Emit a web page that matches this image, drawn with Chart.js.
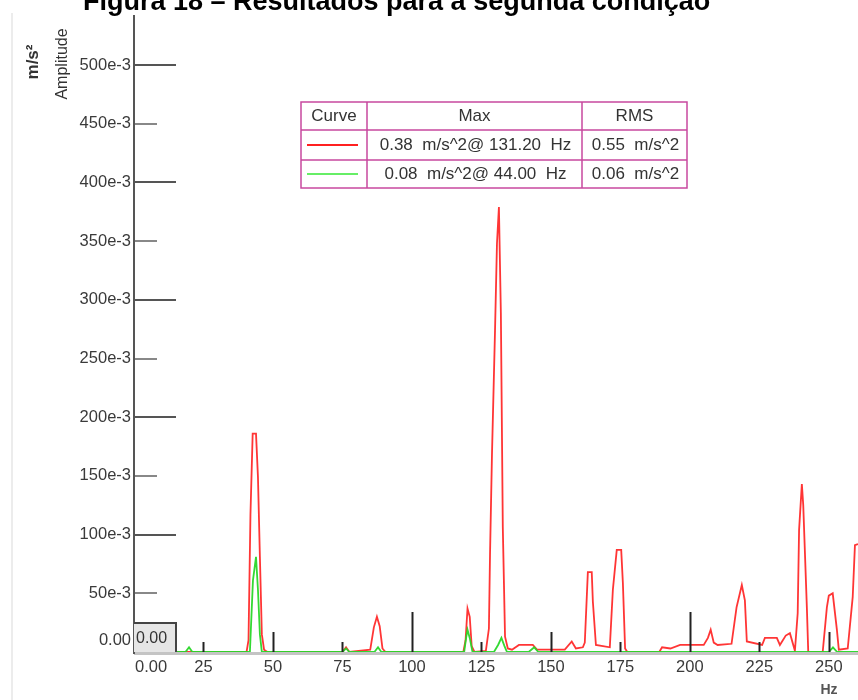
<!DOCTYPE html>
<html><head><meta charset="utf-8">
<script src="https://cdn.jsdelivr.net/npm/chart.js@4/dist/chart.umd.min.js"></script>
<style>html,body{margin:0;padding:0;background:#fff;}#wrap{width:858px;height:700px;position:relative;overflow:hidden}</style>
</head><body><div id="wrap"><canvas id="c" width="858" height="700"></canvas></div>
<script>
const chartTitle = "Figura 18 – Resultados para a segunda condição";
const yAxisTitle = "Amplitude";
const yAxisUnit = "m/s²";
const xAxisUnit = "Hz";

const redFreq = [0, 15, 40.5, 41.2, 41.9, 42.7, 43.9, 44.6, 45.3, 46.0, 46.8, 48, 75, 76.3, 77.5, 85.0, 86.3, 87.4, 88.4, 89.4, 90.5,
  118.5, 119.3, 120.0, 120.8, 121.5, 122.5, 126.6, 127.7, 128.1, 128.8, 129.9, 130.6, 131.3, 132.0, 132.7, 133.5, 134.5, 136, 138.5, 143.5, 145,
  155, 157.5, 159, 161.5, 162.2, 163.3, 164.7, 165.1, 166.2, 171.2, 172.3, 173.7, 175.3, 175.9, 176.7, 177.5, 189, 190, 193, 196.5,
  205, 206.5, 207.5, 208.6, 210, 215, 216.8, 218.7, 219.8, 220.5, 226, 227, 231.3, 232.4, 234.5, 236, 237.8, 238.8, 239.3, 240.3, 240.8, 242.1, 242.6,
  247.8, 249.3, 250.0, 251.4, 252.9, 253.6, 256.8, 258.6, 259.4, 260.5];
const redAmp = [0, 0, 0, 0.010, 0.117, 0.186, 0.186, 0.149, 0.081, 0.015, 0.002, 0, 0, 0.004, 0, 0.002, 0.021, 0.030, 0.022, 0.003, 0,
  0, 0.010, 0.037, 0.030, 0.005, 0, 0.001, 0.020, 0.083, 0.168, 0.274, 0.348, 0.379, 0.289, 0.106, 0.013, 0.003, 0.002, 0.006, 0.006, 0.002,
  0.002, 0.009, 0.003, 0.004, 0.008, 0.068, 0.068, 0.043, 0.006, 0.004, 0.053, 0.087, 0.087, 0.059, 0.003, 0, 0, 0.004, 0.003, 0.006,
  0.006, 0.012, 0.019, 0.008, 0.006, 0.007, 0.038, 0.057, 0.044, 0.009, 0.006, 0.012, 0.012, 0.006, 0.014, 0.016, 0.001, 0.033, 0.104, 0.143, 0.125, 0.038, 0,
  0, 0.038, 0.048, 0.050, 0.019, 0.002, 0.003, 0.047, 0.091, 0.092];

const greenFreq = [0, 18.5, 19.8, 21, 41.7, 42.8, 43.9, 44.6, 45.3, 46.0, 75, 76.3, 77.5, 86.5, 87.8, 89, 118.8, 119.5, 120.0, 120.8, 121.8,
  129.5, 131, 132.2, 133.3, 134.2, 142, 144, 145.5, 250, 251.5, 253, 260.5];
const greenAmp = [0, 0, 0.004, 0, 0, 0.061, 0.081, 0.053, 0.015, 0, 0, 0.003, 0, 0, 0.004, 0, 0, 0.012, 0.019, 0.012, 0,
  0, 0.006, 0.012, 0.005, 0, 0, 0.004, 0, 0, 0.004, 0, 0];

const yTickValues = [0, 0.05, 0.10, 0.15, 0.20, 0.25, 0.30, 0.35, 0.40, 0.45, 0.50];
const yTickLabels = ["0.00", "50e-3", "100e-3", "150e-3", "200e-3", "250e-3", "300e-3", "350e-3", "400e-3", "450e-3", "500e-3"];
const xTickValues = [0, 25, 50, 75, 100, 125, 150, 175, 200, 225, 250];
const xTickLabels = ["0.00", "25", "50", "75", "100", "125", "150", "175", "200", "225", "250"];

const legendHeaders = ["Curve", "Max", "RMS"];
const legendColors = ["#ff2020", "#66ee66"];
const legendMax = ["0.38  m/s^2@ 131.20  Hz", "0.08  m/s^2@ 44.00  Hz"];
const legendRms = ["0.55  m/s^2", "0.06  m/s^2"];

const FONT = '"Liberation Sans", Arial, sans-serif';

const decor = {
  id: 'decor',
  beforeDatasetsDraw(chart) {
    const ctx = chart.ctx, xs = chart.scales.x, ys = chart.scales.y;
    const y0 = ys.getPixelForValue(0);
    ctx.save();
    ctx.strokeStyle = '#c4c4c4';
    ctx.lineWidth = 3;
    ctx.beginPath();
    ctx.moveTo(xs.getPixelForValue(0), y0 + 1.5);
    ctx.lineTo(chart.chartArea.right, y0 + 1.5);
    ctx.stroke();
    ctx.restore();
  },
  afterDatasetsDraw(chart) {
    const ctx = chart.ctx, xs = chart.scales.x, ys = chart.scales.y, ca = chart.chartArea;
    const x0 = xs.getPixelForValue(0), y0 = ys.getPixelForValue(0);
    ctx.save();
    // left faint frame
    ctx.strokeStyle = '#ececec'; ctx.lineWidth = 2;
    ctx.beginPath(); ctx.moveTo(12, 13); ctx.lineTo(12, 700); ctx.stroke();

    // x ticks (inward)
    ctx.strokeStyle = '#222'; ctx.lineWidth = 2;
    xTickValues.forEach(v => {
      if (v === 0) return;
      const px = Math.round(xs.getPixelForValue(v)) + 0.5;
      const len = v % 100 === 0 ? 40 : (v % 50 === 0 ? 20 : 10);
      ctx.beginPath(); ctx.moveTo(px, y0); ctx.lineTo(px, y0 - len); ctx.stroke();
    });
    // y ticks
    yTickValues.forEach(v => {
      if (v === 0) return;
      const py = Math.round(ys.getPixelForValue(v));
      const major = Math.round(v * 100) % 10 === 0;
      ctx.strokeStyle = major ? '#555' : '#888';
      ctx.lineWidth = 2;
      ctx.beginPath(); ctx.moveTo(x0, py); ctx.lineTo(x0 + (major ? 42 : 23), py); ctx.stroke();
    });
    // y axis line
    ctx.strokeStyle = '#555'; ctx.lineWidth = 2;
    ctx.beginPath(); ctx.moveTo(x0, ca.top); ctx.lineTo(x0, y0 + 2); ctx.stroke();

    // 0.00 box
    ctx.fillStyle = '#e6e6e6';
    ctx.fillRect(x0, y0 - 29, 42, 29);
    ctx.strokeStyle = '#444'; ctx.lineWidth = 2;
    ctx.beginPath(); ctx.moveTo(x0, y0 - 29); ctx.lineTo(x0 + 42, y0 - 29); ctx.lineTo(x0 + 42, y0); ctx.stroke();
    ctx.fillStyle = '#333'; ctx.font = '16px ' + FONT; ctx.textAlign = 'left'; ctx.textBaseline = 'middle';
    ctx.fillText(yTickLabels[0], x0 + 2, y0 - 13);

    // y tick labels
    ctx.font = '16.5px ' + FONT; ctx.fillStyle = '#3a3a3a';
    ctx.textAlign = 'right'; ctx.textBaseline = 'middle';
    yTickValues.forEach((v, i) => {
      let py = ys.getPixelForValue(v);
      if (v === 0) py -= 12;
      ctx.fillText(yTickLabels[i], x0 - 3, py);
    });
    // x tick labels
    ctx.textBaseline = 'middle';
    xTickValues.forEach((v, i) => {
      const px = xs.getPixelForValue(v);
      if (v === 0) { ctx.textAlign = 'left'; ctx.fillText(xTickLabels[i], px + 1, y0 + 15); }
      else { ctx.textAlign = 'center'; ctx.fillText(xTickLabels[i], px, y0 + 15); }
    });
    // Hz
    ctx.font = 'bold 14px ' + FONT; ctx.fillStyle = '#555'; ctx.textAlign = 'center';
    ctx.fillText(xAxisUnit, 829, 690);

    // y axis titles
    ctx.save();
    ctx.translate(63, 64); ctx.rotate(-Math.PI / 2);
    ctx.font = '16px ' + FONT; ctx.fillStyle = '#333'; ctx.textAlign = 'center'; ctx.textBaseline = 'middle';
    ctx.fillText(yAxisTitle, 0, 0);
    ctx.restore();
    ctx.save();
    ctx.translate(33, 62); ctx.rotate(-Math.PI / 2);
    ctx.font = 'bold 17px ' + FONT; ctx.fillStyle = '#333'; ctx.textAlign = 'center'; ctx.textBaseline = 'middle';
    ctx.fillText(yAxisUnit, 0, 0);
    ctx.restore();

    // legend table
    const L = 301, R = 687, T = 102, B = 188;
    const c1 = 367, c2 = 582, r1 = 130, r2 = 160;
    ctx.strokeStyle = '#c8489f'; ctx.lineWidth = 1.5;
    ctx.strokeRect(L, T, R - L, B - T);
    ctx.beginPath();
    ctx.moveTo(c1, T); ctx.lineTo(c1, B);
    ctx.moveTo(c2, T); ctx.lineTo(c2, B);
    ctx.moveTo(L, r1); ctx.lineTo(R, r1);
    ctx.moveTo(L, r2); ctx.lineTo(R, r2);
    ctx.stroke();
    ctx.font = '17px ' + FONT; ctx.fillStyle = '#333'; ctx.textAlign = 'center'; ctx.textBaseline = 'middle';
    ctx.fillText(legendHeaders[0], (L + c1) / 2, (T + r1) / 2);
    ctx.fillText(legendHeaders[1], (c1 + c2) / 2, (T + r1) / 2);
    ctx.fillText(legendHeaders[2], (c2 + R) / 2, (T + r1) / 2);
    const rowsY = [(r1 + r2) / 2, (r2 + B) / 2];
    for (let i = 0; i < 2; i++) {
      ctx.strokeStyle = legendColors[i]; ctx.lineWidth = 2;
      ctx.beginPath(); ctx.moveTo(307, rowsY[i]); ctx.lineTo(358, rowsY[i]); ctx.stroke();
      ctx.fillStyle = '#333';
      ctx.fillText(legendMax[i], (c1 + c2) / 2 + 1, rowsY[i]);
      ctx.fillText(legendRms[i], (c2 + R) / 2 + 1, rowsY[i]);
    }

    // title (partially cut at the top, as in the reference)
    ctx.font = 'bold 27px ' + FONT; ctx.fillStyle = '#000'; ctx.textAlign = 'left'; ctx.textBaseline = 'alphabetic';
    ctx.fillText(chartTitle, 83, 10);
    ctx.restore();
  }
};

new Chart(document.getElementById('c'), {
  type: 'line',
  data: {
    datasets: [
      { label: 'red', data: redFreq.map((f, i) => ({ x: f, y: redAmp[i] })), borderColor: 'rgba(255,25,25,0.88)', borderWidth: 1.8, order: 1 },
      { label: 'green', data: greenFreq.map((f, i) => ({ x: f, y: greenAmp[i] })), borderColor: 'rgba(40,215,40,0.95)', borderWidth: 1.8, order: 0 }
    ]
  },
  options: {
    responsive: false, animation: false, devicePixelRatio: 1,
    layout: { padding: { left: 134, top: 15, right: 0, bottom: 48 } },
    elements: { point: { radius: 0 }, line: { tension: 0, fill: false } },
    plugins: { legend: { display: false }, tooltip: { enabled: false } },
    scales: {
      x: { type: 'linear', min: 0, max: 260.5, display: false },
      y: { type: 'linear', min: 0, max: 0.5426, display: false }
    }
  },
  plugins: [decor]
});
</script></body></html>
